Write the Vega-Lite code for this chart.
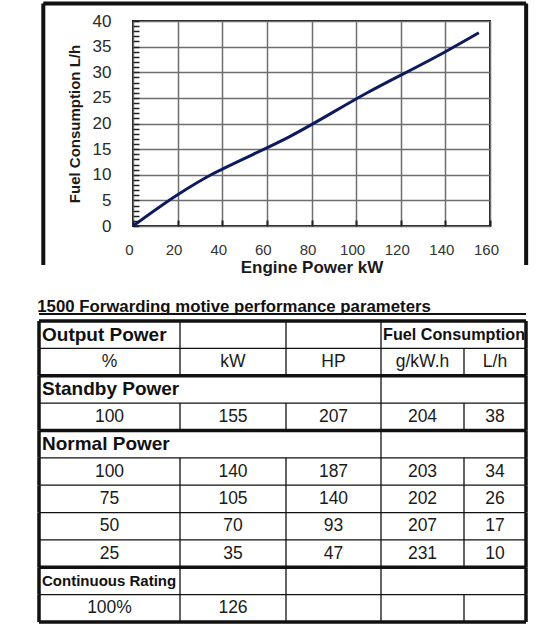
{
  "$schema": "https://vega.github.io/schema/vega-lite/v6.json",
  "background": "white",
  "padding": {"left": 37, "top": 0, "right": 0, "bottom": 0},
  "autosize": {"type": "pad"},
  "config": {"view": {"stroke": null}, "font": "Liberation Sans", "concat": {"spacing": 0}},
  "datasets": {
    "curve": [
      {"kw": 0, "lh": 0},
      {"kw": 20, "lh": 6.1},
      {"kw": 35, "lh": 10},
      {"kw": 40, "lh": 11.1},
      {"kw": 70, "lh": 17.4},
      {"kw": 105, "lh": 26},
      {"kw": 140, "lh": 34},
      {"kw": 155, "lh": 37.7}
    ],
    "table": [
      {"row": 0, "kind": "head", "pct": "Output Power", "kw": "", "hp": "", "gkwh": "Fuel Consumption", "lh": ""},
      {"row": 1, "kind": "units", "pct": "%", "kw": "kW", "hp": "HP", "gkwh": "g/kW.h", "lh": "L/h"},
      {"row": 2, "kind": "section", "pct": "Standby Power", "kw": "", "hp": "", "gkwh": "", "lh": ""},
      {"row": 3, "kind": "data", "pct": "100", "kw": "155", "hp": "207", "gkwh": "204", "lh": "38"},
      {"row": 4, "kind": "section", "pct": "Normal Power", "kw": "", "hp": "", "gkwh": "", "lh": ""},
      {"row": 5, "kind": "data", "pct": "100", "kw": "140", "hp": "187", "gkwh": "203", "lh": "34"},
      {"row": 6, "kind": "data", "pct": "75", "kw": "105", "hp": "140", "gkwh": "202", "lh": "26"},
      {"row": 7, "kind": "data", "pct": "50", "kw": "70", "hp": "93", "gkwh": "207", "lh": "17"},
      {"row": 8, "kind": "data", "pct": "25", "kw": "35", "hp": "47", "gkwh": "231", "lh": "10"},
      {"row": 9, "kind": "rating", "pct": "Continuous Rating", "kw": "", "hp": "", "gkwh": "", "lh": ""},
      {"row": 10, "kind": "ratingdata", "pct": "100%", "kw": "126", "hp": "", "gkwh": "", "lh": ""}
    ]
  },
  "spacing": 23,
  "vconcat": [
    {
      "spacing": 0,
      "hconcat": [
        {"width": 0.01, "height": 1, "data": {"values": []}, "mark": "point"},
        {
          "width": 357,
          "height": 205,
          "view": {"stroke": "#1a1a1a", "strokeWidth": 2},
          "layer": [
            {
              "data": {"name": "curve"},
              "mark": {"type": "line", "color": "#0d1b5e", "strokeWidth": 3, "interpolate": "monotone"},
              "encoding": {
                "x": {
                  "field": "kw", "type": "quantitative",
                  "scale": {"domain": [0, 160], "nice": false, "zero": false},
                  "axis": {
                    "values": [0, 20, 40, 60, 80, 100, 120, 140, 160], "tickCount": 20, "format": "d",
                    "title": "Engine Power kW", "titleFontSize": 17, "titleFontWeight": "bold", "titleColor": "#1a1a1a", "titlePadding": 2,
                    "labelFontSize": 15, "labelColor": "#333333", "labelPadding": 22, "labelOffset": -4, "labelFlush": false,
                    "tickSize": -6, "tickColor": "#222222", "tickWidth": 2,
                    "grid": true, "gridColor": "#6e6e6e", "gridWidth": 1.5, "domain": false
                  }
                },
                "y": {
                  "field": "lh", "type": "quantitative",
                  "scale": {"domain": [0, 40], "nice": false, "zero": false},
                  "axis": {
                    "values": [0,1,2,3,4,5,6,7,8,9,10,11,12,13,14,15,16,17,18,19,20,21,22,23,24,25,26,27,28,29,30,31,32,33,34,35,36,37,38,39,40],
                    "tickCount": 60, "format": "d",
                    "labelExpr": "datum.value % 5 == 0 ? datum.label : ''",
                    "gridOpacity": {"condition": {"test": "datum.value % 5 != 0", "value": 0}, "value": 1},
                    "title": "Fuel Consumption L/h", "titleFontSize": 15, "titleFontWeight": "bold", "titleColor": "#1a1a1a", "titlePadding": 10,
                    "labelFontSize": 17, "labelColor": "#2a2a2a", "labelPadding": 28, "labelOverlap": false, "labelBound": false,
                    "tickSize": -6, "tickColor": "#222222", "tickWidth": 1.5,
                    "grid": true, "gridColor": "#6e6e6e", "gridWidth": 1.5, "domain": false
                  }
                }
              }
            },
            {
              "data": {"values": [{}]},
              "mark": {"type": "rule", "color": "#111111", "strokeWidth": 4},
              "encoding": {"x": {"datum": -40.2}, "y": {"datum": -7.6}, "y2": {"datum": 43.4}}
            },
            {
              "data": {"values": [{}]},
              "mark": {"type": "rule", "color": "#111111", "strokeWidth": 4},
              "encoding": {"x": {"datum": 176.2}, "y": {"datum": -7.6}, "y2": {"datum": 43.4}}
            },
            {
              "data": {"values": [{}]},
              "mark": {"type": "rule", "color": "#111111", "strokeWidth": 4},
              "encoding": {"x": {"datum": -40.2}, "x2": {"datum": 176.2}, "y": {"datum": 43.4}}
            }
          ]
        }
      ]
    },
    {
      "title": {"text": "1500 Forwarding motive performance parameters", "anchor": "start", "font": "Liberation Sans", "fontSize": 16.8, "fontWeight": "bold", "color": "#111111", "offset": -3},
      "bounds": "flush",
      "spacing": 0,
      "data": {"name": "table"},
      "hconcat": [
        {
          "width": 141, "height": 301,
          "layer": [
            {"mark": {"type": "rule", "color": "#111111"}, "encoding": {"y": {"field": "row", "type": "ordinal", "bandPosition": 0, "scale": {"paddingInner": 0, "paddingOuter": 0}, "axis": null}, "strokeWidth": {"condition": {"test": "datum.kind=='head'||datum.kind=='section'||datum.kind=='rating'", "value": 3.5}, "value": 1.3}}},
            {"transform": [{"filter": "datum.row==10"}], "mark": {"type": "rule", "color": "#111111", "strokeWidth": 3.5}, "encoding": {"y": {"field": "row", "type": "ordinal", "bandPosition": 1, "axis": null}}},
            {"transform": [{"filter": "datum.row==0"}], "mark": {"type": "rule", "color": "#111111", "strokeWidth": 2, "yOffset": -7}, "encoding": {"y": {"field": "row", "type": "ordinal", "bandPosition": 0, "axis": null}}},
            {"mark": {"type": "rect", "filled": false, "color": "#111111", "strokeWidth": 3.5}, "encoding": {"x": {"datum": 0, "type": "quantitative", "scale": {"domain": [0, 1]}, "axis": null}, "x2": {"datum": 0}, "y": {"field": "row", "type": "ordinal", "axis": null}}},
            {"transform": [{"filter": "(datum.kind=='units'||datum.kind=='data'||datum.kind=='ratingdata') && datum.pct!=''"}], "mark": {"type": "text", "fontSize": 17.5, "color": "#1a1a1a"}, "encoding": {"x": {"datum": 0.5, "type": "quantitative", "axis": null}, "y": {"field": "row", "type": "ordinal", "axis": null}, "text": {"field": "pct"}}},
            {"transform": [{"filter": "datum.kind=='head'||datum.kind=='section'"}], "mark": {"type": "text", "align": "left", "dx": 3, "fontSize": 19, "fontWeight": "bold", "color": "#111111"}, "encoding": {"x": {"datum": 0, "type": "quantitative", "axis": null}, "y": {"field": "row", "type": "ordinal", "axis": null}, "text": {"field": "pct"}}},
            {"transform": [{"filter": "datum.kind=='rating'"}], "mark": {"type": "text", "align": "left", "dx": 3, "fontSize": 15, "fontWeight": "bold", "color": "#111111"}, "encoding": {"x": {"datum": 0, "type": "quantitative", "axis": null}, "y": {"field": "row", "type": "ordinal", "axis": null}, "text": {"field": "pct"}}}
          ]
        },
        {
          "width": 106, "height": 301,
          "layer": [
            {"mark": {"type": "rule", "color": "#111111"}, "encoding": {"y": {"field": "row", "type": "ordinal", "bandPosition": 0, "scale": {"paddingInner": 0, "paddingOuter": 0}, "axis": null}, "strokeWidth": {"condition": {"test": "datum.kind=='head'||datum.kind=='section'||datum.kind=='rating'", "value": 3.5}, "value": 1.3}}},
            {"transform": [{"filter": "datum.row==10"}], "mark": {"type": "rule", "color": "#111111", "strokeWidth": 3.5}, "encoding": {"y": {"field": "row", "type": "ordinal", "bandPosition": 1, "axis": null}}},
            {"transform": [{"filter": "datum.row==0"}], "mark": {"type": "rule", "color": "#111111", "strokeWidth": 2, "yOffset": -7}, "encoding": {"y": {"field": "row", "type": "ordinal", "bandPosition": 0, "axis": null}}},
            {"transform": [{"filter": "datum.kind!='section'"}], "mark": {"type": "rect", "filled": false, "color": "#111111", "strokeWidth": 1.3}, "encoding": {"x": {"datum": 0, "type": "quantitative", "scale": {"domain": [0, 1]}, "axis": null}, "x2": {"datum": 0}, "y": {"field": "row", "type": "ordinal", "axis": null}}},
            {"transform": [{"filter": "(datum.kind=='units'||datum.kind=='data'||datum.kind=='ratingdata') && datum.kw!=''"}], "mark": {"type": "text", "fontSize": 17.5, "color": "#1a1a1a"}, "encoding": {"x": {"datum": 0.5, "type": "quantitative", "axis": null}, "y": {"field": "row", "type": "ordinal", "axis": null}, "text": {"field": "kw"}}}
          ]
        },
        {
          "width": 95, "height": 301,
          "layer": [
            {"mark": {"type": "rule", "color": "#111111"}, "encoding": {"y": {"field": "row", "type": "ordinal", "bandPosition": 0, "scale": {"paddingInner": 0, "paddingOuter": 0}, "axis": null}, "strokeWidth": {"condition": {"test": "datum.kind=='head'||datum.kind=='section'||datum.kind=='rating'", "value": 3.5}, "value": 1.3}}},
            {"transform": [{"filter": "datum.row==10"}], "mark": {"type": "rule", "color": "#111111", "strokeWidth": 3.5}, "encoding": {"y": {"field": "row", "type": "ordinal", "bandPosition": 1, "axis": null}}},
            {"transform": [{"filter": "datum.row==0"}], "mark": {"type": "rule", "color": "#111111", "strokeWidth": 2, "yOffset": -7}, "encoding": {"y": {"field": "row", "type": "ordinal", "bandPosition": 0, "axis": null}}},
            {"transform": [{"filter": "datum.kind!='section'"}], "mark": {"type": "rect", "filled": false, "color": "#111111", "strokeWidth": 1.3}, "encoding": {"x": {"datum": 0, "type": "quantitative", "scale": {"domain": [0, 1]}, "axis": null}, "x2": {"datum": 0}, "y": {"field": "row", "type": "ordinal", "axis": null}}},
            {"transform": [{"filter": "(datum.kind=='units'||datum.kind=='data'||datum.kind=='ratingdata') && datum.hp!=''"}], "mark": {"type": "text", "fontSize": 17.5, "color": "#1a1a1a"}, "encoding": {"x": {"datum": 0.5, "type": "quantitative", "axis": null}, "y": {"field": "row", "type": "ordinal", "axis": null}, "text": {"field": "hp"}}}
          ]
        },
        {
          "width": 83, "height": 301,
          "layer": [
            {"mark": {"type": "rule", "color": "#111111"}, "encoding": {"y": {"field": "row", "type": "ordinal", "bandPosition": 0, "scale": {"paddingInner": 0, "paddingOuter": 0}, "axis": null}, "strokeWidth": {"condition": {"test": "datum.kind=='head'||datum.kind=='section'||datum.kind=='rating'", "value": 3.5}, "value": 1.3}}},
            {"transform": [{"filter": "datum.row==10"}], "mark": {"type": "rule", "color": "#111111", "strokeWidth": 3.5}, "encoding": {"y": {"field": "row", "type": "ordinal", "bandPosition": 1, "axis": null}}},
            {"transform": [{"filter": "datum.row==0"}], "mark": {"type": "rule", "color": "#111111", "strokeWidth": 2, "yOffset": -7}, "encoding": {"y": {"field": "row", "type": "ordinal", "bandPosition": 0, "axis": null}}},
            {"mark": {"type": "rect", "filled": false, "color": "#111111", "strokeWidth": 1.3}, "encoding": {"x": {"datum": 0, "type": "quantitative", "scale": {"domain": [0, 1]}, "axis": null}, "x2": {"datum": 0}, "y": {"field": "row", "type": "ordinal", "axis": null}}},
            {"transform": [{"filter": "(datum.kind=='units'||datum.kind=='data'||datum.kind=='ratingdata') && datum.gkwh!=''"}], "mark": {"type": "text", "fontSize": 17.5, "color": "#1a1a1a"}, "encoding": {"x": {"datum": 0.5, "type": "quantitative", "axis": null}, "y": {"field": "row", "type": "ordinal", "axis": null}, "text": {"field": "gkwh"}}},
            {"transform": [{"filter": "datum.kind=='head' && datum.gkwh!=''"}], "mark": {"type": "text", "align": "left", "dx": 2, "fontSize": 16.2, "fontWeight": "bold", "color": "#111111"}, "encoding": {"x": {"datum": 0, "type": "quantitative", "axis": null}, "y": {"field": "row", "type": "ordinal", "axis": null}, "text": {"field": "gkwh"}}}
          ]
        },
        {
          "width": 62, "height": 301,
          "layer": [
            {"mark": {"type": "rule", "color": "#111111"}, "encoding": {"y": {"field": "row", "type": "ordinal", "bandPosition": 0, "scale": {"paddingInner": 0, "paddingOuter": 0}, "axis": null}, "strokeWidth": {"condition": {"test": "datum.kind=='head'||datum.kind=='section'||datum.kind=='rating'", "value": 3.5}, "value": 1.3}}},
            {"transform": [{"filter": "datum.row==10"}], "mark": {"type": "rule", "color": "#111111", "strokeWidth": 3.5}, "encoding": {"y": {"field": "row", "type": "ordinal", "bandPosition": 1, "axis": null}}},
            {"transform": [{"filter": "datum.row==0"}], "mark": {"type": "rule", "color": "#111111", "strokeWidth": 2, "yOffset": -7}, "encoding": {"y": {"field": "row", "type": "ordinal", "bandPosition": 0, "axis": null}}},
            {"transform": [{"filter": "datum.kind=='units'||datum.kind=='data'||datum.kind=='ratingdata'"}], "mark": {"type": "rect", "filled": false, "color": "#111111", "strokeWidth": 1.3}, "encoding": {"x": {"datum": 0, "type": "quantitative", "scale": {"domain": [0, 1]}, "axis": null}, "x2": {"datum": 0}, "y": {"field": "row", "type": "ordinal", "axis": null}}},
            {"mark": {"type": "rect", "filled": false, "color": "#111111", "strokeWidth": 3.5}, "encoding": {"x": {"datum": 1, "type": "quantitative", "axis": null}, "x2": {"datum": 1}, "y": {"field": "row", "type": "ordinal", "axis": null}}},
            {"transform": [{"filter": "(datum.kind=='units'||datum.kind=='data'||datum.kind=='ratingdata') && datum.lh!=''"}], "mark": {"type": "text", "fontSize": 17.5, "color": "#1a1a1a"}, "encoding": {"x": {"datum": 0.5, "type": "quantitative", "axis": null}, "y": {"field": "row", "type": "ordinal", "axis": null}, "text": {"field": "lh"}}}
          ]
        }
      ]
    }
  ]
}
